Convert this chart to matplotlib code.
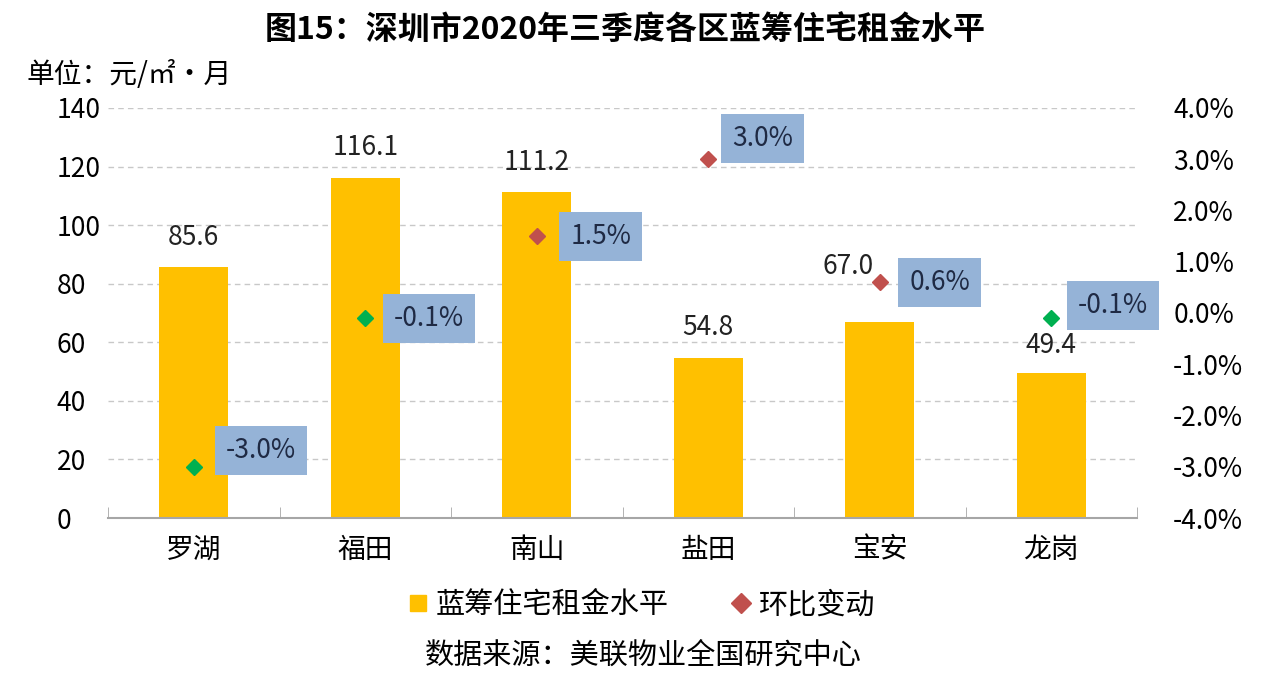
import matplotlib
matplotlib.use("Agg")
import matplotlib.pyplot as plt
from matplotlib.lines import Line2D
import numpy as np

plt.rcParams['font.family'] = ['Noto Sans CJK SC', 'DejaVu Sans']

# data
districts = ['罗湖', '福田', '南山', '盐田', '宝安', '龙岗']
rent = [85.6, 116.1, 111.2, 54.8, 67.0, 49.4]
mom = [-3.0, -0.1, 1.5, 3.0, 0.6, -0.1]
# label offsets (pixels)
rent_off = [(0, 30), (0, 30), (0, 30), (0, 30), (-32, 55), (0, 28)]
label_off = [(67, 16), (64, 0), (64, 0), (54, 21), (60, 0), (62, 13)]

bar_color = '#FFC000'
up_color = '#C0504D'
down_color = '#00B050'
box_color = '#95B3D7'

fig = plt.figure(figsize=(12.71, 6.94), dpi=100)
ax = fig.add_axes([0.085, 0.2536, 0.8096, 0.5908])
ax2 = ax.twinx()

x = np.arange(len(districts))
ax.bar(x, rent, width=0.4, color=bar_color, zorder=2)
for xi, v, off in zip(x, rent, rent_off):
    ax.annotate(f'{v:.1f}', (xi, v), xytext=off, textcoords='offset pixels',
                ha='center', va='center', fontsize=19, color='#222222')

ax.set_xlim(-0.5, len(districts) - 0.5)
ax.set_ylim(0, 140)
ax.set_yticks(range(0, 141, 20))
ax.yaxis.grid(True, linestyle=(0, (4, 3)), color='#C8C8C8', linewidth=1)
ax.set_axisbelow(True)
ax.set_xticks(x)
ax.set_xticklabels(districts, fontsize=20)
ax.set_xticks(np.arange(-0.5, len(districts), 1), minor=True)
ax.tick_params(axis='x', which='major', length=0, pad=12)
ax.tick_params(axis='x', which='minor', length=8, direction='in', color='#A6A6A6')
ax.tick_params(axis='y', length=0, labelsize=19, pad=37)
for t in ax.get_yticklabels():
    t.set_horizontalalignment('left')
for s in ['left', 'right', 'top']:
    ax.spines[s].set_visible(False)
ax.spines['bottom'].set_color('#A6A6A6')
ax.spines['bottom'].set_linewidth(1.5)

ax2.set_ylim(-4, 4)
ax2.set_yticks(range(-4, 5))
ax2.set_yticklabels([f'{v:.1f}%' for v in range(-4, 5)], fontsize=19)
ax2.tick_params(axis='y', length=0, pad=26)
for s in ['left', 'right', 'top', 'bottom']:
    ax2.spines[s].set_visible(False)

for xi, v, off in zip(x, mom, label_off):
    c = up_color if v > 0 else down_color
    ax2.plot(xi, v, marker='D', markersize=8, color=c, linestyle='none', zorder=3)
    ax2.annotate(f'{v:.1f}%', (xi, v), xytext=off, textcoords='offset pixels',
                 ha='center', va='center', fontsize=19, color='#1F2A44',
                 bbox=dict(boxstyle='square,pad=0.42', fc=box_color, ec='none'))

fig.text(0.492, 0.955, '图15：深圳市2020年三季度各区蓝筹住宅租金水平',
         ha='center', va='center', fontsize=23, fontweight='bold')
fig.text(0.021, 0.892, '单位：元/㎡·月', ha='left', va='center', fontsize=20)

handles = [Line2D([], [], marker='s', color=bar_color, linestyle='none', markersize=12),
           Line2D([], [], marker='D', color=up_color, linestyle='none', markersize=10)]
fig.legend(handles, ['蓝筹住宅租金水平', '环比变动'], loc='center',
           bbox_to_anchor=(0.503, 0.128), ncol=2, frameon=False, fontsize=21,
           handletextpad=0.1, columnspacing=2.0, handlelength=1)
fig.text(0.506, 0.055, '数据来源：美联物业全国研究中心', ha='center', va='center', fontsize=21)

fig.savefig('out.png', dpi=100)
